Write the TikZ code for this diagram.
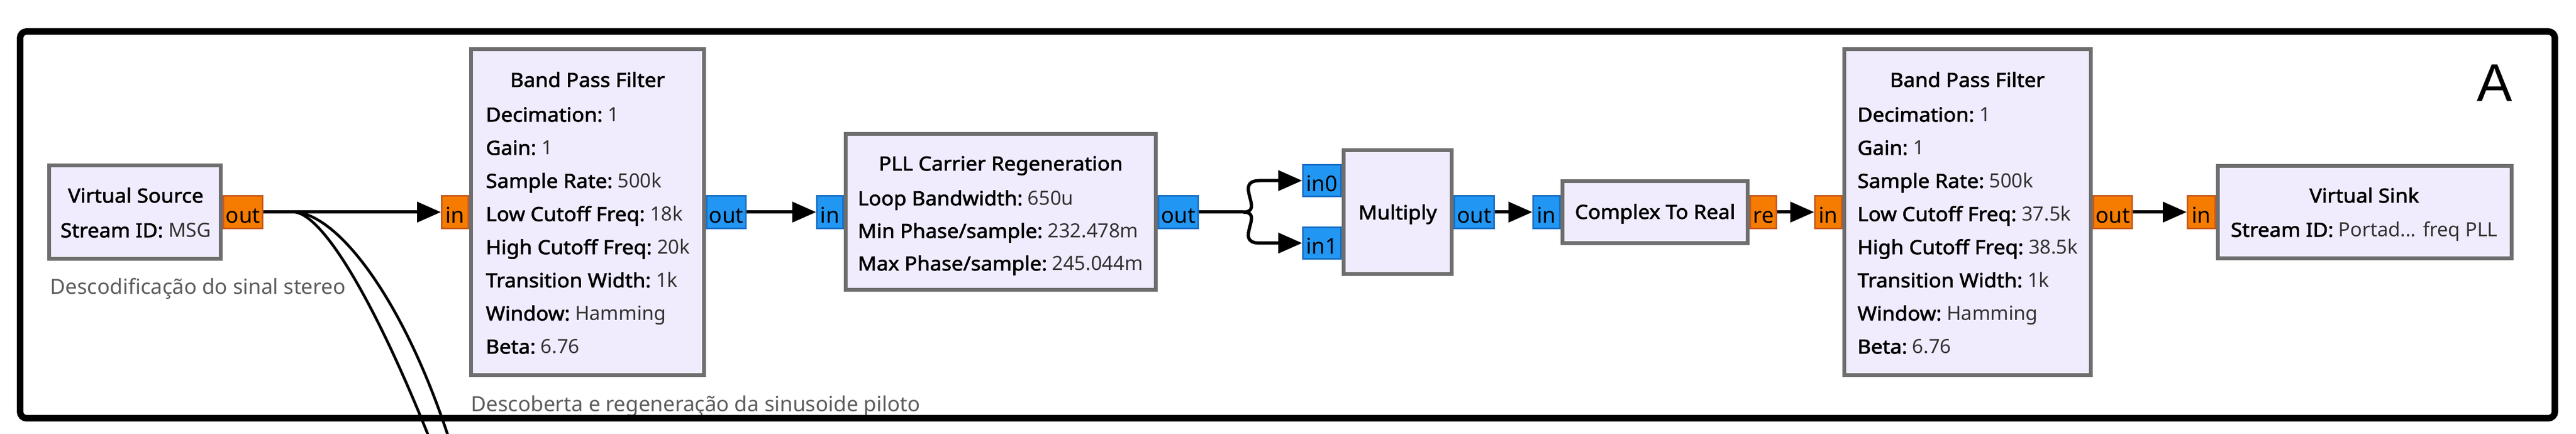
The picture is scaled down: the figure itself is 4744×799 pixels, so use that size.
\documentclass[tikz,border=0pt]{standalone}
\usepackage{fontspec}
\setmainfont{Noto Sans}[BoldFont={Noto Sans}, BoldFeatures={FakeBold=2.2, FakeStretch=1.06}]
\newfontfamily\letterfont{Liberation Sans}
\usetikzlibrary{arrows.meta}
\definecolor{blkfill}{HTML}{F0ECFE}
\definecolor{blkdraw}{HTML}{6E6E6E}
\definecolor{orfill}{HTML}{F57C00}
\definecolor{ordraw}{HTML}{C85A1E}
\definecolor{blfill}{HTML}{2196F3}
\definecolor{bldraw}{HTML}{1A6FC4}
\definecolor{valtext}{HTML}{333333}
\definecolor{captext}{HTML}{5C5C5C}
\newcommand{\kv}[2]{\textbf{#1:}~{\color{valtext}#2}}
\tikzset{
  blk/.style={draw=blkdraw, fill=blkfill, line width=1.75pt, rectangle, inner sep=0pt},
  portbase/.style={rectangle, line width=0.75pt, inner sep=0pt, minimum height=15pt,
    font=\fontsize{10pt}{12pt}\selectfont, text height=10pt, text depth=0pt},
  oport/.style={portbase, draw=ordraw, fill=orfill},
  bport/.style={portbase, draw=bldraw, fill=blfill},
  ptext/.style={inner sep=0pt, font=\fontsize{9pt}{11pt}\selectfont},
  ttext/.style={ptext, anchor=base, font=\fontsize{9pt}{11pt}\selectfont\bfseries},
  captxt/.style={inner sep=0pt, anchor=base west, text=captext, font=\fontsize{9.6pt}{11pt}\selectfont},
  wire/.style={line width=1.5pt, -{Triangle[length=11pt,width=9.25pt]}},
  tapwire/.style={line width=1.25pt},
  frame/.style={line width=3pt, rounded corners=3pt}
}
\begin{document}
\begin{tikzpicture}[x=0.25pt, y=-0.25pt]
\useasboundingbox (0,0) rectangle (4744,799);

% ---------- ports ----------
\node[oport, minimum width=18pt]    (vsout)  at (447.5,390.5) {out};
\node[oport, minimum width=12.25pt] (bpfAin) at (838,390.5)   {in};
\node[bport, minimum width=18pt]    (bpfAout) at (1337.5,390.5) {out};
\node[bport, minimum width=12pt]    (pllin)  at (1528.5,390.5) {in};
\node[bport, minimum width=18.25pt] (pllout) at (2170,390.5)  {out};
\node[bport, minimum width=17.5pt, minimum height=14.5pt] (mulin0) at (2434.5,332.5) {in0};
\node[bport, minimum width=17.5pt, minimum height=14.5pt] (mulin1) at (2434.5,447.5) {in1};
\node[bport, minimum width=18.25pt] (mulout) at (2715,390.5)  {out};
\node[bport, minimum width=12.25pt] (ctrin)  at (2848,390.5)  {in};
\node[oport, minimum width=12pt]    (ctrre)  at (3247.5,390.5) {re};
\node[oport, minimum width=12.25pt] (bpfBin) at (3367,390.5)  {in};
\node[oport, minimum width=17.75pt] (bpfBout) at (3891,390.5) {out};
\node[oport, minimum width=12.75pt] (vsnkin) at (4054,390.5)  {in};

% ---------- blocks ----------
\node[blk, minimum width=79pt,     minimum height=43pt]    (vsrc) at (248.5,390.5) {};
\node[blk, minimum width=107.25pt, minimum height=150pt]   (bpfA) at (1082,390.5) {};
\node[blk, minimum width=142.75pt, minimum height=71.75pt] (pll)  at (1843,390) {};
\node[blk, minimum width=49.75pt,  minimum height=57pt]    (mul)  at (2574,390.5) {};
\node[blk, minimum width=85.25pt,  minimum height=28.5pt]  (ctr)  at (3048,390.5) {};
\node[blk, minimum width=113.5pt,  minimum height=150pt]   (bpfB) at (3623.5,390.5) {};
\node[blk, minimum width=135.25pt, minimum height=42.5pt]  (vsnk) at (4355,390.5) {};

% ---------- block texts ----------
\node[ttext] (vsrc-t) at (250,373) {Virtual Source};
\node[ptext, anchor=base] (vsrc-p) at (250,437) {\kv{Stream ID}{MSG}};

\node[ttext] (bpfA-t) at (1082,160) {Band Pass Filter};
\foreach \txt [count=\i] in {{\kv{Decimation}{1}},{\kv{Gain}{1}},{\kv{Sample Rate}{500k}},
  {\kv{Low Cutoff Freq}{18k}},{\kv{High Cutoff Freq}{20k}},{\kv{Transition Width}{1k}},
  {\kv{Window}{Hamming}},{\kv{Beta}{6.76}}}
  \node[ptext, anchor=base west] (bpfA-p\i) at (894,{224+61*(\i-1)}) {\txt};

\node[ttext] (pll-t) at (1843,314) {PLL Carrier Regeneration};
\foreach \txt [count=\i] in {{\kv{Loop Bandwidth}{650u}},{\kv{Min Phase/sample}{232.478m}},
  {\kv{Max Phase/sample}{245.044m}}}
  \node[ptext, anchor=base west] (pll-p\i) at (1579,{378+60*(\i-1)}) {\txt};

\node[ttext] (mul-t) at (2574,404) {Multiply};
\node[ttext] (ctr-t) at (3048,403) {Complex To Real};

\node[ttext] (bpfB-t) at (3623,160) {Band Pass Filter};
\foreach \txt [count=\i] in {{\kv{Decimation}{1}},{\kv{Gain}{1}},{\kv{Sample Rate}{500k}},
  {\kv{Low Cutoff Freq}{37.5k}},{\kv{High Cutoff Freq}{38.5k}},{\kv{Transition Width}{1k}},
  {\kv{Window}{Hamming}},{\kv{Beta}{6.76}}}
  \node[ptext, anchor=base west] (bpfB-p\i) at (3420,{224+61*(\i-1)}) {\txt};

\node[ttext] (vsnk-t) at (4354,373) {Virtual Sink};
\node[ptext, anchor=base] (vsnk-p) at (4354,436) {\kv{Stream ID}{Portad... freq PLL}};

% ---------- captions ----------
\node[captxt] (capA) at (92,542) {Descodificação do sinal stereo};
\node[captxt] (capB) at (867,758) {Descoberta e regeneração da sinusoide piloto};

% ---------- connections ----------
\coordinate (tap) at (543,390.5);
\coordinate (offL) at (800,830);
\coordinate (offR) at (834,830);
\draw[wire] (vsout.east) -- (bpfAin.west);
\draw[tapwire] (tap) .. controls (600,398) and (700,575) .. (offL);
\draw[tapwire] (tap) .. controls (625,395) and (750,560) .. (offR);
\draw[wire] (bpfAout.east) -- (pllin.west);
\coordinate (split) at (2290,390.5);
\draw[line width=1.5pt] (pllout.east) -- (split);
\draw[wire] (split) .. controls (2330,390.5) and (2270,332.5) .. (2320,332.5) -- (mulin0.west);
\draw[wire] (split) .. controls (2330,390.5) and (2270,447.5) .. (2320,447.5) -- (mulin1.west);
\draw[wire] (mulout.east) -- (ctrin.west);
\draw[wire] (ctrre.east) -- (bpfBin.west);
\draw[wire] (bpfBout.east) -- (vsnkin.west);

% ---------- frame and label ----------
\draw[frame] (37,58) rectangle (4705,770);
\node[inner sep=0pt, anchor=base, font=\letterfont\fontsize{24.5pt}{28pt}\selectfont] (lblA) at (4594,187) {A};
\end{tikzpicture}
\end{document}
